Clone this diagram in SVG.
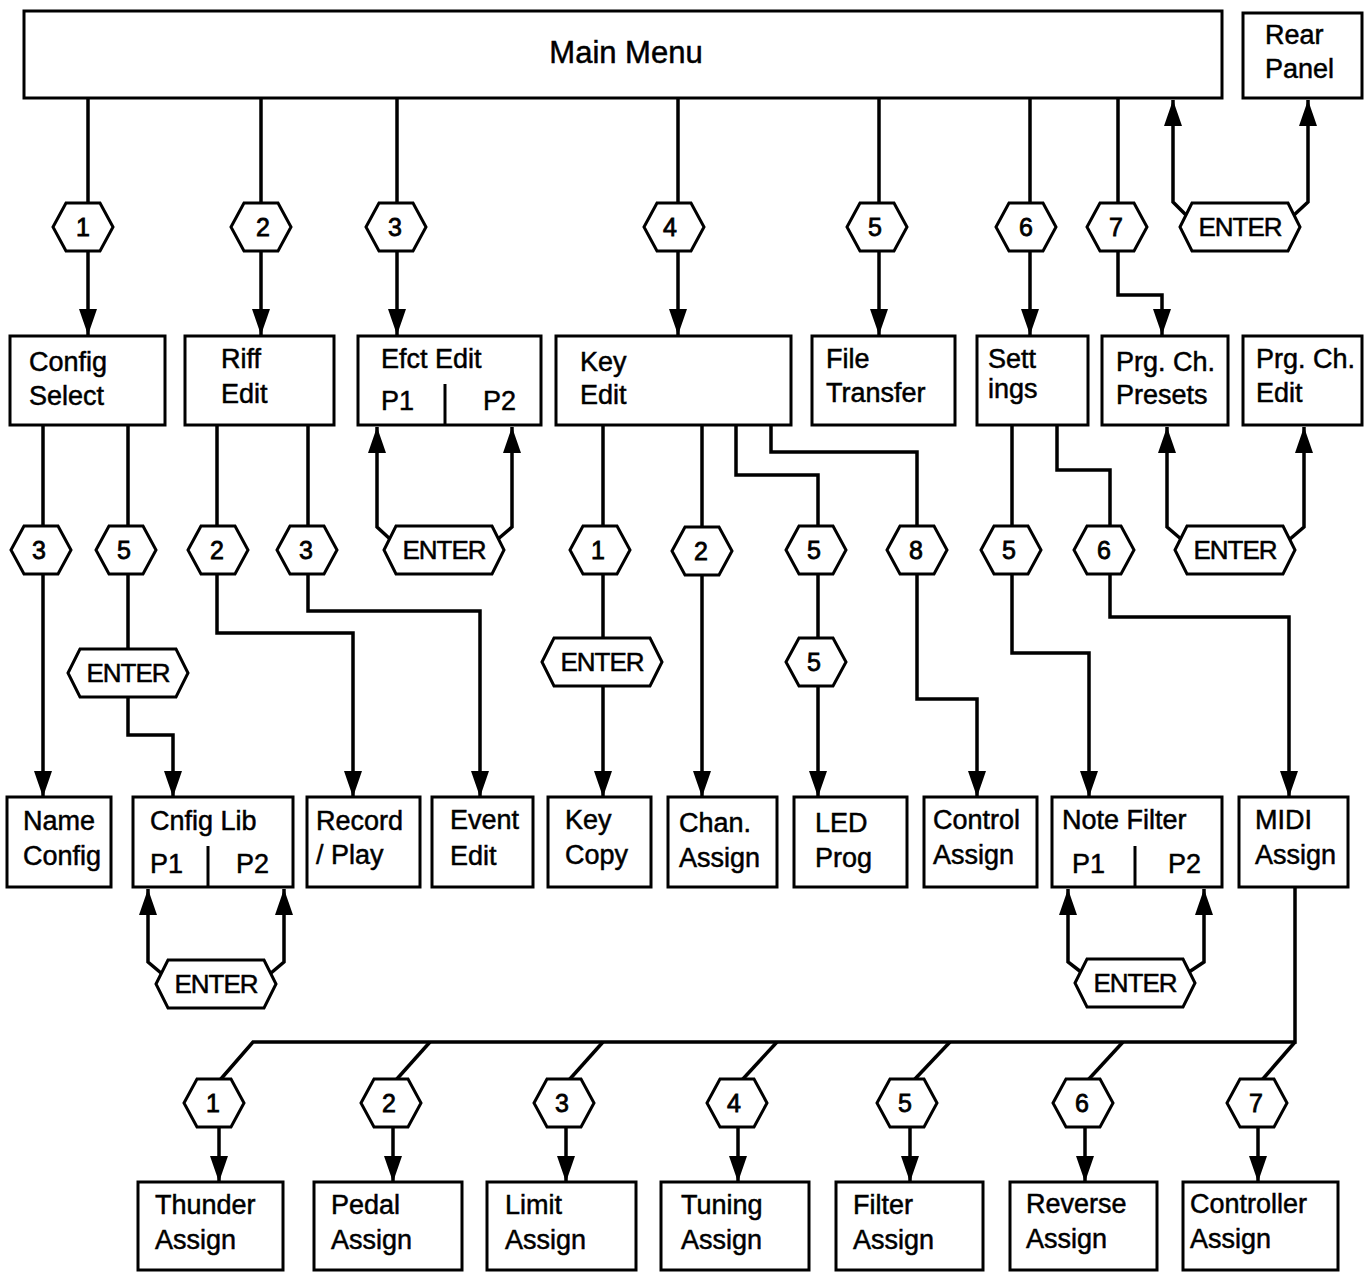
<svg xmlns="http://www.w3.org/2000/svg" xmlns:xlink="http://www.w3.org/1999/xlink" width="1364" height="1272" viewBox="0 0 1364 1272">
<style>
.box{fill:#fff;stroke:#000;stroke-width:3}
.hx{fill:#fff;stroke:#000;stroke-width:3}
.t{font-family:"Liberation Sans",Arial,sans-serif;font-size:27px;fill:#000;stroke:#000;stroke-width:0.5}
.m{font-size:31px;text-anchor:middle}
.n{font-size:25px;text-anchor:middle;stroke-width:0.8}
.e{font-size:26px;letter-spacing:-1px;text-anchor:middle}
.c{fill:none;stroke:#000;stroke-width:3.5;stroke-linejoin:miter}
.a{marker-end:url(#arr)}
.d{stroke:#000;stroke-width:3}
</style>
<defs>
<marker id="arr" viewBox="0 0 26 18" refX="26" refY="9" markerWidth="26" markerHeight="18" markerUnits="userSpaceOnUse" orient="auto">
<path d="M0,0 L26,9 L0,18 z" fill="#000"/>
</marker>
<polygon id="hx" class="hx" points="-30,0 -17,-24 17,-24 30,0 17,24 -17,24"/>
<polygon id="ex" class="hx" points="-60,0 -48,-24 48,-24 60,0 48,24 -48,24"/>
</defs>
<rect width="1364" height="1272" fill="#fff"/>
<g id="connectors">
<path class="c a" d="M88,98 V335"/>
<path class="c a" d="M261,98 V335"/>
<path class="c a" d="M397,98 V335"/>
<path class="c a" d="M678,98 V335"/>
<path class="c a" d="M879,98 V335"/>
<path class="c a" d="M1030,98 V335"/>
<path class="c a" d="M1118,98 V295 H1162 V335"/>
<path class="c a" d="M1186,215 L1173,202 V100"/>
<path class="c a" d="M1294,215 L1308,202 V100"/>
<path class="c a" d="M43,426 V797"/>
<path class="c a" d="M128,426 V735 H173 V797"/>
<path class="c a" d="M217,426 V633 H353 V797"/>
<path class="c a" d="M308,426 V611 H480 V797"/>
<path class="c a" d="M390,539 L377,527 V427"/>
<path class="c a" d="M498,539 L512,527 V427"/>
<path class="c a" d="M603,426 V797"/>
<path class="c a" d="M702,426 V797"/>
<path class="c a" d="M736,426 V475 H818 V797"/>
<path class="c a" d="M771,426 V452 H917 V699 H977 V797"/>
<path class="c a" d="M1012,426 V653 H1089 V797"/>
<path class="c a" d="M1057,426 V470 H1110 V617 H1289 V797"/>
<path class="c a" d="M1181,539 L1167,527 V427"/>
<path class="c a" d="M1290,539 L1304,527 V427"/>
<path class="c a" d="M161,973 L148,962 V889"/>
<path class="c a" d="M271,973 L284,962 V889"/>
<path class="c a" d="M1081,972 L1068,962 V889"/>
<path class="c a" d="M1189,972 L1204,962 V889"/>
<path class="c" d="M1295,888 V1042 H253 L220,1080"/>
<path class="c" d="M430,1042 L396,1080"/>
<path class="c" d="M603,1042 L569,1080"/>
<path class="c" d="M777,1042 L742,1080"/>
<path class="c" d="M950,1042 L914,1080"/>
<path class="c" d="M1123,1042 L1088,1080"/>
<path class="c" d="M1295,1042 L1262,1080"/>
<path class="c a" d="M219,1127 V1182"/>
<path class="c a" d="M393,1127 V1182"/>
<path class="c a" d="M566,1127 V1182"/>
<path class="c a" d="M738,1127 V1182"/>
<path class="c a" d="M910,1127 V1182"/>
<path class="c a" d="M1085,1127 V1182"/>
<path class="c a" d="M1258,1127 V1182"/>
</g>
<g id="main-menu"><rect class="box" x="24" y="11" width="1198" height="87"/><text class="t m" x="626" y="63">Main Menu</text></g>
<g id="rear-panel"><rect class="box" x="1243" y="13" width="119" height="85"/><text class="t" x="1265" y="44">Rear</text><text class="t" x="1265" y="78">Panel</text></g>
<g id="h-m1"><use href="#hx" x="83" y="227"/><text class="t n" x="83" y="236">1</text></g>
<g id="h-m2"><use href="#hx" x="261" y="227"/><text class="t n" x="263" y="236">2</text></g>
<g id="h-m3"><use href="#hx" x="396" y="227"/><text class="t n" x="395" y="236">3</text></g>
<g id="h-m4"><use href="#hx" x="674" y="227"/><text class="t n" x="670" y="236">4</text></g>
<g id="h-m5"><use href="#hx" x="877" y="227"/><text class="t n" x="875" y="236">5</text></g>
<g id="h-m6"><use href="#hx" x="1026" y="227"/><text class="t n" x="1026" y="236">6</text></g>
<g id="h-m7"><use href="#hx" x="1117" y="227"/><text class="t n" x="1116" y="236">7</text></g>
<g id="enter-rear"><use href="#ex" x="1240" y="227"/><text class="t e" x="1240" y="236">ENTER</text></g>
<g id="config-select"><rect class="box" x="10" y="336" width="155" height="89"/><text class="t" x="29" y="371">Config</text><text class="t" x="29" y="405">Select</text></g>
<g id="riff-edit"><rect class="box" x="185" y="336" width="149" height="89"/><text class="t" x="221" y="368">Riff</text><text class="t" x="221" y="403">Edit</text></g>
<g id="efct-edit"><rect class="box" x="358" y="336" width="183" height="89"/><text class="t" x="381" y="368">Efct Edit</text><text class="t" x="381" y="410">P1</text><text class="t" x="483" y="410">P2</text><line class="d" x1="445" y1="384" x2="445" y2="425"/></g>
<g id="key-edit"><rect class="box" x="556" y="336" width="235" height="89"/><text class="t" x="580" y="371">Key</text><text class="t" x="580" y="404">Edit</text></g>
<g id="file-transfer"><rect class="box" x="812" y="336" width="143" height="89"/><text class="t" x="826" y="368">File</text><text class="t" x="826" y="402">Transfer</text></g>
<g id="settings"><rect class="box" x="977" y="336" width="111" height="89"/><text class="t" x="988" y="368">Sett</text><text class="t" x="988" y="398">ings</text></g>
<g id="prg-presets"><rect class="box" x="1102" y="336" width="126" height="89"/><text class="t" x="1116" y="371">Prg. Ch.</text><text class="t" x="1116" y="404">Presets</text></g>
<g id="prg-edit"><rect class="box" x="1243" y="336" width="119" height="89"/><text class="t" x="1256" y="368">Prg. Ch.</text><text class="t" x="1256" y="402">Edit</text></g>
<g id="h-c3"><use href="#hx" x="41" y="550"/><text class="t n" x="39" y="559">3</text></g>
<g id="h-c5"><use href="#hx" x="126" y="550"/><text class="t n" x="124" y="559">5</text></g>
<g id="enter-c"><use href="#ex" x="128" y="673"/><text class="t e" x="128" y="682">ENTER</text></g>
<g id="h-r2"><use href="#hx" x="218" y="550"/><text class="t n" x="217" y="559">2</text></g>
<g id="h-r3"><use href="#hx" x="307" y="550"/><text class="t n" x="306" y="559">3</text></g>
<g id="enter-efct"><use href="#ex" x="444" y="550"/><text class="t e" x="444" y="559">ENTER</text></g>
<g id="h-k1"><use href="#hx" x="600" y="550"/><text class="t n" x="598" y="559">1</text></g>
<g id="enter-k"><use href="#ex" x="602" y="662"/><text class="t e" x="602" y="671">ENTER</text></g>
<g id="h-k2"><use href="#hx" x="702" y="551"/><text class="t n" x="701" y="560">2</text></g>
<g id="h-k5a"><use href="#hx" x="816" y="550"/><text class="t n" x="814" y="559">5</text></g>
<g id="h-k5b"><use href="#hx" x="816" y="662"/><text class="t n" x="814" y="671">5</text></g>
<g id="h-k8"><use href="#hx" x="917" y="550"/><text class="t n" x="916" y="559">8</text></g>
<g id="h-s5"><use href="#hx" x="1011" y="550"/><text class="t n" x="1009" y="559">5</text></g>
<g id="h-s6"><use href="#hx" x="1104" y="550"/><text class="t n" x="1104" y="559">6</text></g>
<g id="enter-prg"><use href="#ex" x="1235" y="550"/><text class="t e" x="1235" y="559">ENTER</text></g>
<g id="name-config"><rect class="box" x="7" y="797" width="104" height="90"/><text class="t" x="23" y="830">Name</text><text class="t" x="23" y="865">Config</text></g>
<g id="cnfig-lib"><rect class="box" x="133" y="797" width="160" height="90"/><text class="t" x="150" y="830">Cnfig Lib</text><text class="t" x="150" y="873">P1</text><text class="t" x="236" y="873">P2</text><line class="d" x1="208" y1="846" x2="208" y2="887"/></g>
<g id="record-play"><rect class="box" x="307" y="797" width="113" height="90"/><text class="t" x="316" y="830">Record</text><text class="t" x="316" y="864">/ Play</text></g>
<g id="event-edit"><rect class="box" x="432" y="797" width="101" height="90"/><text class="t" x="450" y="829">Event</text><text class="t" x="450" y="865">Edit</text></g>
<g id="key-copy"><rect class="box" x="548" y="797" width="103" height="90"/><text class="t" x="565" y="829">Key</text><text class="t" x="565" y="864">Copy</text></g>
<g id="chan-assign"><rect class="box" x="668" y="797" width="109" height="90"/><text class="t" x="679" y="832">Chan.</text><text class="t" x="679" y="867">Assign</text></g>
<g id="led-prog"><rect class="box" x="794" y="797" width="113" height="90"/><text class="t" x="815" y="832">LED</text><text class="t" x="815" y="867">Prog</text></g>
<g id="control-assign"><rect class="box" x="924" y="797" width="113" height="90"/><text class="t" x="933" y="829">Control</text><text class="t" x="933" y="864">Assign</text></g>
<g id="note-filter"><rect class="box" x="1052" y="797" width="170" height="90"/><text class="t" x="1062" y="829">Note Filter</text><text class="t" x="1072" y="873">P1</text><text class="t" x="1168" y="873">P2</text><line class="d" x1="1135" y1="846" x2="1135" y2="887"/></g>
<g id="midi-assign"><rect class="box" x="1239" y="797" width="109" height="90"/><text class="t" x="1255" y="829">MIDI</text><text class="t" x="1255" y="864">Assign</text></g>
<g id="enter-cl"><use href="#ex" x="216" y="984"/><text class="t e" x="216" y="993">ENTER</text></g>
<g id="enter-nf"><use href="#ex" x="1135" y="983"/><text class="t e" x="1135" y="992">ENTER</text></g>
<g id="h-b1"><use href="#hx" x="214" y="1103"/><text class="t n" x="213" y="1112">1</text></g>
<g id="h-b2"><use href="#hx" x="391" y="1103"/><text class="t n" x="389" y="1112">2</text></g>
<g id="h-b3"><use href="#hx" x="564" y="1103"/><text class="t n" x="562" y="1112">3</text></g>
<g id="h-b4"><use href="#hx" x="737" y="1103"/><text class="t n" x="734" y="1112">4</text></g>
<g id="h-b5"><use href="#hx" x="907" y="1103"/><text class="t n" x="905" y="1112">5</text></g>
<g id="h-b6"><use href="#hx" x="1083" y="1103"/><text class="t n" x="1082" y="1112">6</text></g>
<g id="h-b7"><use href="#hx" x="1257" y="1103"/><text class="t n" x="1256" y="1112">7</text></g>
<g id="thunder-assign"><rect class="box" x="138" y="1182" width="145" height="88"/><text class="t" x="155" y="1214">Thunder</text><text class="t" x="155" y="1249">Assign</text></g>
<g id="pedal-assign"><rect class="box" x="314" y="1182" width="148" height="88"/><text class="t" x="331" y="1214">Pedal</text><text class="t" x="331" y="1249">Assign</text></g>
<g id="limit-assign"><rect class="box" x="487" y="1182" width="149" height="88"/><text class="t" x="505" y="1214">Limit</text><text class="t" x="505" y="1249">Assign</text></g>
<g id="tuning-assign"><rect class="box" x="661" y="1182" width="148" height="88"/><text class="t" x="681" y="1214">Tuning</text><text class="t" x="681" y="1249">Assign</text></g>
<g id="filter-assign"><rect class="box" x="836" y="1182" width="147" height="88"/><text class="t" x="853" y="1214">Filter</text><text class="t" x="853" y="1249">Assign</text></g>
<g id="reverse-assign"><rect class="box" x="1010" y="1182" width="147" height="88"/><text class="t" x="1026" y="1213">Reverse</text><text class="t" x="1026" y="1248">Assign</text></g>
<g id="controller-assign"><rect class="box" x="1183" y="1182" width="155" height="88"/><text class="t" x="1190" y="1213">Controller</text><text class="t" x="1190" y="1248">Assign</text></g>
</svg>
